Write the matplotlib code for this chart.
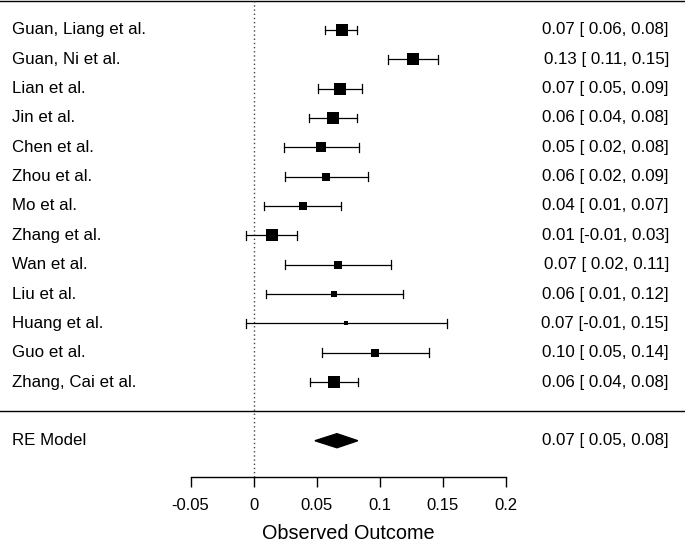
import matplotlib
matplotlib.use("Agg")
import matplotlib.pyplot as plt
from matplotlib.patches import Polygon

plt.rcParams['font.family'] = ['Liberation Sans', 'DejaVu Sans']

# Datos de los estudios (estimacion, IC inferior, IC superior, peso %)
estudios = ["Guan, Liang et al.", "Guan, Ni et al.", "Lian et al.", "Jin et al.",
            "Chen et al.", "Zhou et al.", "Mo et al.", "Zhang et al.", "Wan et al.",
            "Liu et al.", "Huang et al.", "Guo et al.", "Zhang, Cai et al."]
est = [0.0701, 0.1261, 0.0684, 0.0631, 0.0536, 0.0576, 0.0389, 0.0143,
       0.0666, 0.0639, 0.0732, 0.0964, 0.0634]
li = [0.0569, 0.1065, 0.0507, 0.0441, 0.0241, 0.0249, 0.0085, -0.0058,
      0.0249, 0.0098, -0.0063, 0.0542, 0.0449]
ls = [0.0822, 0.1458, 0.0860, 0.0822, 0.0832, 0.0906, 0.0692, 0.0341,
      0.1088, 0.1186, 0.1532, 0.1387, 0.0825]
pesos = [10.6, 10.4, 9.8, 9.9, 7.5, 7.0, 7.2, 10.0, 5.3, 3.9, 2.1, 5.8, 10.2]

# Modelo de efectos aleatorios
re_est, re_li, re_ls = 0.066, 0.0486, 0.0825

ticks = [-0.05, 0, 0.05, 0.1, 0.15, 0.2]
tick_labels = ["-0.05", "0", "0.05", "0.1", "0.15", "0.2"]

fig = plt.figure(figsize=(6.85, 5.44), dpi=100)
ax = fig.add_axes([0, 0, 1, 1])
ax.set_xlim(-0.2009, 0.3417)
ax.set_ylim(-4.52, 14.02)

k = len(estudios)
filas = list(range(k, 0, -1))
fs = 12.2
x_izq, x_der = -0.1914, 0.329

# Lineas horizontales y linea de referencia
ax.axhline(k + 1, color='black', lw=1)
ax.axhline(0, color='black', lw=1)
y_eje = -2.24
ax.plot([0, 0], [y_eje, k + 1], color='#444444', lw=1, ls=(0, (1, 2)))

wmin, wmax = min(pesos), max(pesos)
for i in range(k):
    y = filas[i]
    ax.plot([li[i], ls[i]], [y, y], color='black', lw=0.9)
    ax.plot([li[i], li[i]], [y - 0.15, y + 0.15], color='black', lw=0.9)
    ax.plot([ls[i], ls[i]], [y - 0.15, y + 0.15], color='black', lw=0.9)
    lado = 4 + 8 * (pesos[i] - wmin) / (wmax - wmin)
    ax.scatter(est[i], y, marker='s', s=(lado * 0.72) ** 2, color='black',
               linewidths=0, zorder=3)
    ax.text(x_izq, y, estudios[i], ha='left', va='center', fontsize=fs)
    ax.text(x_der, y, f"{est[i]:.2f} [{li[i]:5.2f}, {ls[i]:.2f}]",
            ha='right', va='center', fontsize=fs)

# Diamante del modelo RE
h = 0.24
diamante = Polygon([(re_li, -1), (re_est, -1 + h), (re_ls, -1), (re_est, -1 - h)],
                   closed=True, color='black')
ax.add_patch(diamante)
ax.text(x_izq, -1, "RE Model", ha='left', va='center', fontsize=fs)
ax.text(x_der, -1, f"{re_est:.2f} [{re_li:5.2f}, {re_ls:.2f}]",
        ha='right', va='center', fontsize=fs)

# Eje x
for s in ['top', 'left', 'right']:
    ax.spines[s].set_visible(False)
ax.spines['bottom'].set_position(('data', y_eje))
ax.spines['bottom'].set_bounds(-0.05, 0.2)
ax.spines['bottom'].set_linewidth(1)
ax.set_yticks([])
ax.set_xticks(ticks)
ax.set_xticklabels(tick_labels)
ax.tick_params(axis='x', direction='out', length=7.2, width=1, pad=8,
               labelsize=12)
ax.text(0.075, -4.15, "Observed Outcome", ha='center', va='center', fontsize=14.3)

plt.savefig("out.png", dpi=100)
